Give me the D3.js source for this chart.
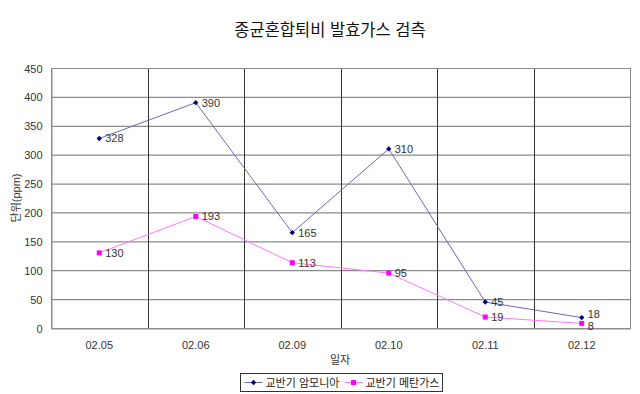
<!DOCTYPE html>
<html>
<head>
<meta charset="utf-8">
<script src="https://cdn.jsdelivr.net/npm/d3@7"></script>
<style>
body { margin: 0; background: #fff; }
text { font-family: Arial, "Liberation Sans", "Noto Sans CJK KR", sans-serif; }
</style>
</head>
<body>
<div id="chart"></div>
<script>
// data
var dates = ["02.05", "02.06", "02.09", "02.10", "02.11", "02.12"]
var ammonia = [328, 390, 165, 310, 45, 18]
var methane = [130, 193, 113, 95, 19, 8]
var seriesNames = ["교반기 암모니아", "교반기 메탄가스"]
var yTicks = [0, 50, 100, 150, 200, 250, 300, 350, 400, 450]

var w = 640, h = 394
var m = {left: 51, right: 10, top: 68, bottom: 66}

var svg = d3.select("#chart").append("svg")
	.attr("width", w)
	.attr("height", h)

var x = d3.scaleBand().domain(dates).range([m.left, w - m.right])
var y = d3.scaleLinear().domain([0, 450]).range([h - m.bottom, m.top])

// horizontal grid
svg.append("g")
	.selectAll("line")
	.data(yTicks)
	.enter().append("line")
	.attr("x1", m.left).attr("x2", w - m.right)
	.attr("y1", function(d) { return y(d) + 0.5 })
	.attr("y2", function(d) { return y(d) + 0.5 })
	.attr("stroke", "#8c8c8c")
	.attr("stroke-width", 1.2)

// vertical separators
svg.append("g")
	.selectAll("line")
	.data(dates.slice(1))
	.enter().append("line")
	.attr("x1", function(d) { return Math.round(x(d)) + 0.5 })
	.attr("x2", function(d) { return Math.round(x(d)) + 0.5 })
	.attr("y1", m.top).attr("y2", h - m.bottom)
	.attr("stroke", "#333")

// plot border
svg.append("rect")
	.attr("x", m.left + 0.5).attr("y", m.top + 0.5)
	.attr("width", w - m.left - m.right).attr("height", h - m.top - m.bottom)
	.attr("fill", "none")
	.attr("stroke", "#8c8c8c")

// y axis
var yAxis = svg.append("g")
	.attr("transform", "translate(" + (m.left + 0.5) + ",0.5)")
	.call(d3.axisLeft(y).tickValues(yTicks).tickSize(0).tickPadding(9))
yAxis.select(".domain").attr("stroke", "#8c8c8c")
yAxis.selectAll("text").attr("font-size", 11).attr("fill", "#333")

// x axis
var xAxis = svg.append("g")
	.attr("transform", "translate(0," + (h - m.bottom + 0.5) + ")")
	.call(d3.axisBottom(x).tickSize(0).tickPadding(13))
xAxis.select(".domain").attr("stroke", "#8c8c8c")
xAxis.selectAll("text").attr("font-size", 11).attr("fill", "#333")

// titles
svg.append("text")
	.attr("x", 330).attr("y", 36)
	.attr("text-anchor", "middle")
	.attr("font-size", 16.5)
	.attr("fill", "#111")
	.text("종균혼합퇴비 발효가스 검측")

svg.append("text")
	.attr("transform", "translate(20,198) rotate(-90)")
	.attr("text-anchor", "middle")
	.attr("font-size", 11)
	.attr("fill", "#333")
	.text("단위(ppm)")

svg.append("text")
	.attr("x", 340).attr("y", 364)
	.attr("text-anchor", "middle")
	.attr("font-size", 11)
	.attr("fill", "#333")
	.text("일자")

var cx = function(d, i) { return x(dates[i]) + x.bandwidth() / 2 }

var line = d3.line()
	.x(function(d, i) { return cx(d, i) })
	.y(function(d) { return y(d) })

// markers: small square diamond, small square
function marker(sel, s) {
	if (s.diamond) {
		sel.attr("d", d3.symbol().type(d3.symbolSquare).size(14))
		return "rotate(45)"
	}
	sel.attr("d", d3.symbol().type(d3.symbolSquare).size(25))
	return ""
}

var series = [
	{name: seriesNames[0], values: ammonia, line: "#6a6ab8", mark: "#000080", diamond: true},
	{name: seriesNames[1], values: methane, line: "#ff77ff", mark: "#ff00ff", diamond: false}
]

// label positions: right of point, pushed apart when two labels collide
var labelY = series.map(function(s) { return s.values.map(function(v) { return y(v) + 4 }) })
dates.forEach(function(d, i) {
	var a = labelY[0][i], b = labelY[1][i]
	if (Math.abs(a - b) < 12) {
		var mid = (a + b) / 2
		labelY[0][i] = mid - 6
		labelY[1][i] = mid + 6
	}
})

series.forEach(function(s, si) {
	svg.append("path")
		.attr("d", line(s.values))
		.attr("fill", "none")
		.attr("stroke", s.line)
		.attr("stroke-width", 1)

	svg.append("g").selectAll("path")
		.data(s.values)
		.enter().append("path")
		.each(function(d, i) {
			var rot = marker(d3.select(this), s)
			d3.select(this).attr("transform", "translate(" + cx(d, i) + "," + y(d) + ")" + rot)
		})
		.attr("fill", s.mark)

	svg.append("g").selectAll("text")
		.data(s.values)
		.enter().append("text")
		.attr("x", function(d, i) { return cx(d, i) + 6 })
		.attr("y", function(d, i) { return labelY[si][i] })
		.attr("font-size", 11)
		.attr("fill", "#333")
		.text(function(d) { return d })
})

// legend
var lg = svg.append("g").attr("transform", "translate(240.5,373.5)")
lg.append("rect")
	.attr("width", 202).attr("height", 18)
	.attr("fill", "#fff").attr("stroke", "#333")

series.forEach(function(s, i) {
	var ox = 4 + i * 100
	lg.append("line")
		.attr("x1", ox).attr("x2", ox + 18)
		.attr("y1", 9).attr("y2", 9)
		.attr("stroke", s.line)
	var p = lg.append("path").attr("fill", s.mark)
	var rot = marker(p, s)
	p.attr("transform", "translate(" + (ox + 9) + ",9)" + rot)
	lg.append("text")
		.attr("x", ox + 21).attr("y", 13)
		.attr("font-size", 11)
		.attr("fill", "#222")
		.text(s.name)
})
</script>
</body>
</html>
